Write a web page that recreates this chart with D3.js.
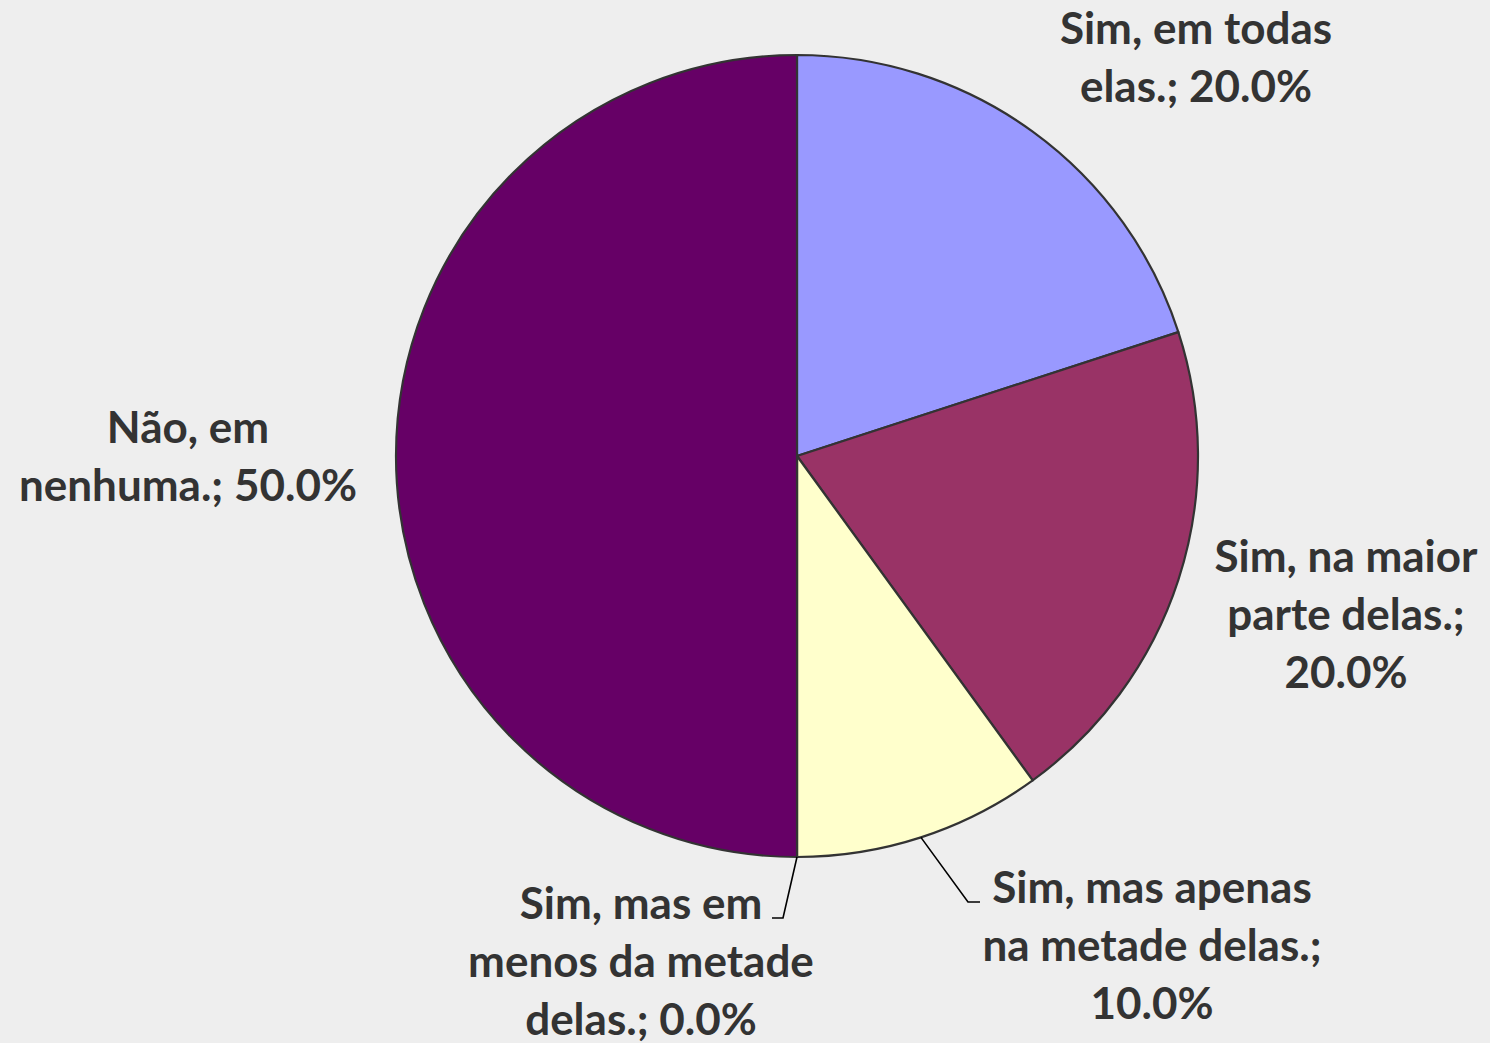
<!DOCTYPE html>
<html><head><meta charset="utf-8">
<script src="https://cdn.jsdelivr.net/npm/d3@7"></script>
<style>
html,body{margin:0;padding:0;background:#eeeeee;}
svg{display:block;}
</style></head>
<body>
<svg id="chart" width="1490" height="1043"></svg>
<script>
const categories = [
  "Sim, em todas elas.",
  "Sim, na maior parte delas.",
  "Sim, mas apenas na metade delas.",
  "Sim, mas em menos da metade delas.",
  "Não, em nenhuma."
];
const values = [20.0, 20.0, 10.0, 0.0, 50.0];
const colors = ["#9999FF", "#993366", "#FFFFCC", "#CCFFFF", "#660066"];
const labelLines = [
  ["Sim, em todas", "elas.; 20.0%"],
  ["Sim, na maior", "parte delas.;", "20.0%"],
  ["Sim, mas apenas", "na metade delas.;", "10.0%"],
  ["Sim, mas em", "menos da metade", "delas.; 0.0%"],
  ["Não, em", "nenhuma.; 50.0%"]
];

// layout (not data)
const cx = 797, cy = 456, R = 401;
const labelPos = [
  {x: 1196, y: 44},
  {x: 1346, y: 572},
  {x: 1152, y: 903},
  {x: 641, y: 919},
  {x: 188, y: 443}
];
const lineH = 58;

const svg = d3.select("#chart");
svg.append("rect").attr("width",1490).attr("height",1043).attr("fill","#eeeeee");
const g = svg.append("g").attr("transform", `translate(${cx},${cy})`);

const pie = d3.pie().sort(null).value(d => d)(values);
const arc = d3.arc().innerRadius(0).outerRadius(R);

g.selectAll("path.slice").data(pie).enter().append("path")
  .attr("class","slice")
  .attr("d", arc)
  .attr("fill", (d,i) => colors[i])
  .attr("stroke", "#333333")
  .attr("stroke-width", 2.2)
  .attr("stroke-linejoin","round");

// leader lines for the small slices
function edgePoint(angle){ return [cx + R*Math.sin(angle), cy - R*Math.cos(angle)]; }
const leaders = [
  {i:2, bend:[968, 902], end:[980, 902]},
  {i:3, bend:[783, 918], end:[772, 918]}
];
leaders.forEach(l => {
  const d = pie[l.i];
  const a = (d.startAngle + d.endAngle)/2;
  const p = edgePoint(a);
  svg.append("polyline")
    .attr("points", [p, l.bend, l.end].map(q => q.join(",")).join(" "))
    .attr("fill","none").attr("stroke","#000").attr("stroke-width",1.6);
});

labelLines.forEach((lines,i) => {
  const t = svg.append("text")
    .attr("x", labelPos[i].x).attr("y", labelPos[i].y)
    .attr("text-anchor","middle")
    .attr("font-family","Lato, 'Open Sans', sans-serif")
    .attr("font-weight","bold")
    .attr("font-size", 44)
    .attr("fill","#333333");
  lines.forEach((ln,j) => {
    t.append("tspan").attr("x", labelPos[i].x).attr("y", labelPos[i].y + j*lineH).text(ln);
  });
});
</script>
</body></html>
